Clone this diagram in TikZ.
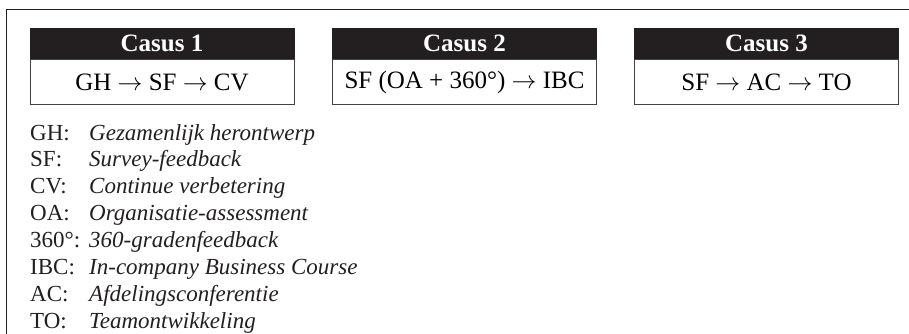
\documentclass[tikz,border=0pt]{standalone}
\usepackage{fontspec}
\setmainfont{Liberation Serif}
\definecolor{ink}{HTML}{231F20}
\begin{document}
\begin{tikzpicture}[x=1pt,y=-1pt,
  head/.style={fill=ink,draw=ink,minimum width=264pt,minimum height=31pt,inner sep=0pt,
    text=white,font=\fontsize{25}{28}\selectfont\bfseries},
  body/.style={draw=ink!85,line width=1pt,minimum width=264pt,minimum height=45pt,inner sep=0pt,
    font=\fontsize{25}{28}\selectfont},
  abbr/.style={anchor=base west,inner sep=0pt,font=\fontsize{23}{27}\selectfont,text=ink},
  desc/.style={anchor=base west,inner sep=0pt,font=\fontsize{23}{27}\selectfont\itshape,text=ink}]
\useasboundingbox (0,0) rectangle (909,334);
\draw[ink,line width=1.3pt] (6.5,334) -- (6.5,9.5) -- (909,9.5);
% case boxes
\node[head] (h1) at (162,43.5) {Casus 1};
\node[body,anchor=north] (b1) at (h1.south) {GH $\rightarrow$ SF $\rightarrow$ CV};
\node[head] (h2) at (464.5,43.5) {Casus 2};
\node[body,anchor=north] (b2) at (h2.south) {SF (OA + 360°) $\rightarrow$ IBC};
\node[head] (h3) at (766.5,43.5) {Casus 3};
\node[body,anchor=north] (b3) at (h3.south) {SF $\rightarrow$ AC $\rightarrow$ TO};
% legend
\foreach \a/\d [count=\i from 0] in {GH:/Gezamenlijk herontwerp,SF:/Survey-feedback,CV:/Continue verbetering,OA:/Organisatie-assessment,360°:/360-gradenfeedback,IBC:/In-company Business Course,AC:/Afdelingsconferentie,TO:/Teamontwikkeling}{
  \node[abbr] (a\i) at (30,{140+26.9*\i}) {\a};
  \node[desc] (d\i) at (89,{140+26.9*\i}) {\d};
}
\end{tikzpicture}
\end{document}
